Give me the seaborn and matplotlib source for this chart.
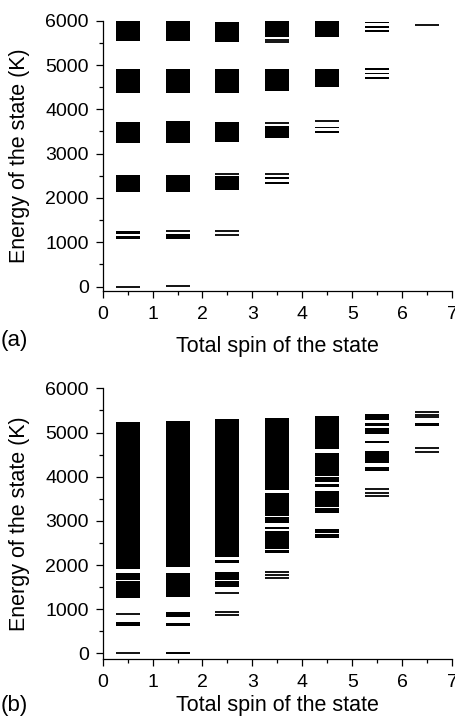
import numpy as np
import pandas as pd
import seaborn as sns
from matplotlib import pyplot as plt
from matplotlib.ticker import MultipleLocator

sns.set_theme(style="ticks")
plt.rcParams["font.family"] = ["Liberation Sans", "DejaVu Sans"]
plt.rcParams["text.color"] = "black"
plt.rcParams["axes.labelcolor"] = "black"
plt.rcParams["xtick.color"] = "black"
plt.rcParams["ytick.color"] = "black"
plt.rcParams["axes.edgecolor"] = "black"

# (spin, low, high) for dense groups of levels, (spin, energy) for single levels
a_bands = [
    (0.5, 5550, 5990), (0.5, 4360, 4920), (0.5, 3240, 3710), (0.5, 2130, 2510),
    (0.5, 1185, 1255), (0.5, 1065, 1145),
    (1.5, 5535, 5990), (1.5, 4360, 4920), (1.5, 3235, 3730), (1.5, 2145, 2515),
    (1.5, 1070, 1190),
    (2.5, 5520, 5980), (2.5, 4360, 4920), (2.5, 3255, 3720), (2.5, 2180, 2500),
    (3.5, 5640, 5990), (3.5, 4415, 4910), (3.5, 3360, 3615), (3.5, 2425, 2470),
    (3.5, 2310, 2370),
    (4.5, 5630, 5990), (4.5, 4500, 4910), (4.5, 3575, 3610), (4.5, 3460, 3510),
    (5.5, 5940, 5980), (5.5, 5830, 5890), (5.5, 5735, 5790),
    (5.5, 4890, 4930), (5.5, 4790, 4830), (5.5, 4680, 4720),
]
a_levels = [
    (0.5, 0), (1.5, 15), (1.5, 1265), (2.5, 1265), (2.5, 1155), (2.5, 2530),
    (3.5, 5555), (3.5, 5520), (3.5, 3700), (3.5, 2538), (4.5, 3740), (6.5, 5900),
]

b_bands = [
    (0.5, 1910, 5245), (0.5, 1655, 1810), (0.5, 1250, 1640), (0.5, 620, 710),
    (1.5, 1960, 5268), (1.5, 1280, 1810), (1.5, 830, 930), (1.5, 630, 680),
    (2.5, 2175, 5298), (2.5, 2040, 2110), (2.5, 1655, 1850), (2.5, 1495, 1635),
    (3.5, 3690, 5320), (3.5, 3100, 3640), (3.5, 2945, 3080), (3.5, 2810, 2870),
    (3.5, 2365, 2770), (3.5, 2265, 2350),
    (4.5, 4620, 5373), (4.5, 4015, 4528), (4.5, 3886, 3985), (4.5, 3773, 3834),
    (4.5, 3320, 3681), (4.5, 3170, 3283), (4.5, 2725, 2810), (4.5, 2610, 2710),
    (5.5, 5290, 5430), (5.5, 5146, 5221), (5.5, 5060, 5108), (5.5, 4966, 5050),
    (5.5, 4755, 4805), (5.5, 4410, 4590), (5.5, 4300, 4400), (5.5, 4136, 4226),
    (6.5, 5150, 5205),
]
b_levels = [
    (0.5, 0), (0.5, 883), (1.5, 0), (1.5, 15),
    (2.5, 1380), (2.5, 935), (2.5, 860),
    (3.5, 1855), (3.5, 1775), (3.5, 1710),
    (5.5, 3725), (5.5, 3640), (5.5, 3555),
    (6.5, 5465), (6.5, 5390), (6.5, 5350), (6.5, 4650), (6.5, 4565),
]

HALF = 0.24

fig = plt.figure(figsize=(4.56, 7.23), dpi=100)
ax_a = fig.add_axes([0.2252, 0.5974, 0.766, 0.3740])
ax_b = fig.add_axes([0.2252, 0.0885, 0.766, 0.3744])


def draw_panel(ax, bands, levels, ymin, xpad):
    bd = pd.DataFrame(bands, columns=["spin", "lo", "hi"])
    lv = pd.DataFrame(levels, columns=["spin", "energy"])
    ax.bar(bd["spin"], bd["hi"] - bd["lo"], width=2 * HALF, bottom=bd["lo"],
           color="black", linewidth=0)
    ax.hlines(lv["energy"], lv["spin"] - HALF, lv["spin"] + HALF,
              color="black", linewidth=1.3)
    ax.set_xlim(0, 7)
    ax.set_ylim(ymin, 6000)
    ax.xaxis.set_major_locator(MultipleLocator(1))
    ax.xaxis.set_minor_locator(MultipleLocator(0.5))
    ax.yaxis.set_major_locator(MultipleLocator(1000))
    ax.yaxis.set_minor_locator(MultipleLocator(500))
    ax.tick_params(which="major", direction="out", length=5, width=0.9,
                   labelsize=14)
    ax.tick_params(which="minor", direction="out", length=3, width=0.9)
    ax.tick_params(axis="x", pad=6)
    ax.tick_params(axis="y", pad=5)
    for s in ["left", "bottom"]:
        ax.spines[s].set_linewidth(0.9)
    sns.despine(ax=ax)
    ax.set_xlabel("Total spin of the state", fontsize=15.5, labelpad=xpad)
    ax.set_ylabel("Energy of the state (K)", fontsize=15.5, labelpad=11)


draw_panel(ax_a, a_bands, a_levels, -100, 9)
draw_panel(ax_b, b_bands, b_levels, -125, 3)

fig.text(0.002, 0.529, "(a)", fontsize=16, va="center")
fig.text(0.002, 0.024, "(b)", fontsize=16, va="center")

fig.savefig("out.png", dpi=100)
